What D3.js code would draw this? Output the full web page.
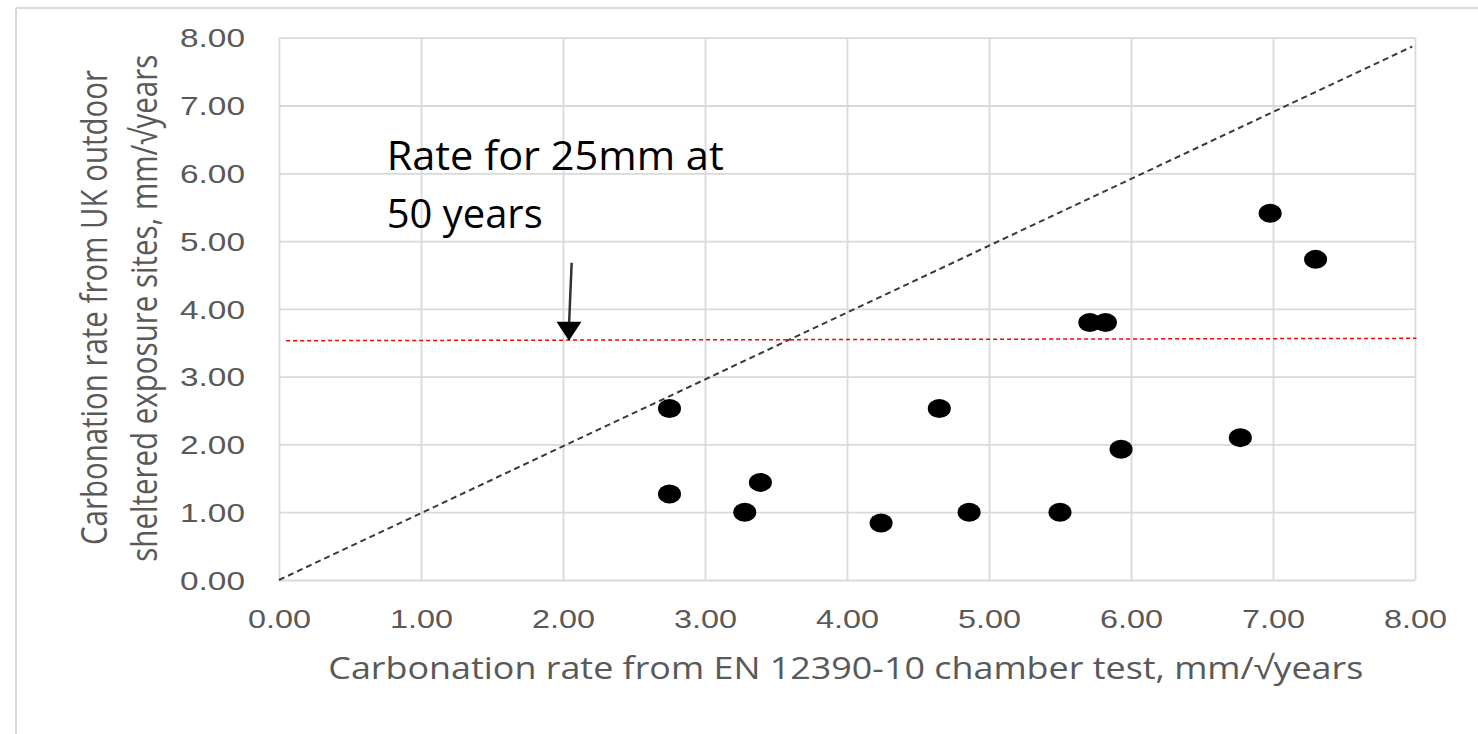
<!DOCTYPE html>
<html>
<head>
<meta charset="utf-8">
<script src="https://cdn.jsdelivr.net/npm/d3@7"></script>
<style>
  body { margin: 0; background: #fff; }
  svg { display: block; font-family: "Open Sans", sans-serif; }
</style>
</head>
<body>
<div class="chart"></div>
<script>
// measured points (chamber test rate vs outdoor rate)
const chamberRate = [2.75, 2.75, 3.39, 3.28, 4.65, 4.24, 4.86, 5.50, 5.71, 5.82, 5.93, 6.77, 6.98, 7.30];
const outdoorRate = [2.53, 1.27, 1.44, 1.00, 2.53, 0.84, 1.00, 1.00, 3.80, 3.80, 1.93, 2.10, 5.41, 4.73];

// dashed reference lines
const equalityLine = [[0, 0], [7.98, 7.87]];
const limitLine = [[0.05, 3.53], [8.01, 3.565]];
// arrow: start, tip
const arrowPts = [[2.061, 4.68], [2.042, 3.53]];

const xTicks = [0, 1, 2, 3, 4, 5, 6, 7, 8];
const yTicks = [0, 1, 2, 3, 4, 5, 6, 7, 8];

const xTitle = "Carbonation rate from EN 12390-10 chamber test, mm/√years";
const yTitle = ["Carbonation rate from UK outdoor", "sheltered exposure sites, mm/√years"];
const note = ["Rate for 25mm at", "50 years"];

const width = 1478, height = 734;
const plotL = 279, plotR = 1415, plotT = 37.7, plotB = 580;

const svg = d3.select(".chart").append("svg")
  .attr("width", width)
  .attr("height", height);

// outer frame (top and left only are visible)
svg.append("line").attr("x1", 16).attr("x2", width).attr("y1", 8).attr("y2", 8)
  .attr("stroke", "#d9d9d9").attr("stroke-width", 2);
svg.append("line").attr("x1", 16).attr("x2", 16).attr("y1", 8).attr("y2", height)
  .attr("stroke", "#d9d9d9").attr("stroke-width", 2);

const x = d3.scaleLinear().domain([0, 8]).range([plotL, plotR]);
const y = d3.scaleLinear().domain([0, 8]).range([plotB, plotT]);

// grid
svg.append("g")
  .attr("transform", `translate(0,${plotB})`)
  .call(d3.axisBottom(x).tickValues(xTicks).tickSize(-(plotB - plotT)).tickFormat(""))
  .call(g => g.select(".domain").remove())
  .call(g => g.selectAll("line").attr("stroke", "#d9d9d9").attr("stroke-width", 1.8));
svg.append("g")
  .attr("transform", `translate(${plotL},0)`)
  .call(d3.axisLeft(y).tickValues(yTicks).tickSize(-(plotR - plotL)).tickFormat(""))
  .call(g => g.select(".domain").remove())
  .call(g => g.selectAll("line").attr("stroke", "#d9d9d9").attr("stroke-width", 1.8));

// tick labels
const fmt = d3.format(".2f");
svg.append("g")
  .attr("transform", `translate(0,${plotB})`)
  .call(d3.axisBottom(x).tickValues(xTicks).tickSize(0).tickFormat(fmt))
  .call(g => g.select(".domain").remove())
  .call(g => g.selectAll("text")
    .attr("y", 48.3).attr("dy", null)
    .attr("fill", "#595959")
    .style("font-size", "25.6px")
    .attr("textLength", 63).attr("lengthAdjust", "spacingAndGlyphs"));
svg.append("g")
  .attr("transform", `translate(${plotL},0)`)
  .call(d3.axisLeft(y).tickValues(yTicks).tickSize(0).tickFormat(fmt))
  .call(g => g.select(".domain").remove())
  .call(g => g.selectAll("text")
    .attr("x", -(plotL - 245)).attr("dy", 9.2)
    .attr("fill", "#595959")
    .style("font-size", "25.6px")
    .attr("textLength", 65).attr("lengthAdjust", "spacingAndGlyphs"));

// axis titles
svg.append("text")
  .attr("x", 328.3).attr("y", 679.3)
  .attr("fill", "#595959")
  .style("font-size", "31.8px")
  .attr("textLength", 1035).attr("lengthAdjust", "spacingAndGlyphs")
  .text(xTitle);

// y title: same font as x title, glyphs widened across the baseline like the picture
const yTitlePos = [{ bx: 106.7, start: 545, len: 475 }, { bx: 156.7, start: 561.7, len: 507 }];
svg.selectAll(".ytitle").data(yTitle).join("text")
  .attr("class", "ytitle")
  .attr("transform", (d, i) => `translate(${yTitlePos[i].bx},${yTitlePos[i].start}) rotate(-90) scale(1,1.145)`)
  .attr("fill", "#595959")
  .style("font-size", "31.8px")
  .attr("textLength", (d, i) => yTitlePos[i].len).attr("lengthAdjust", "spacingAndGlyphs")
  .text(d => d);

// dashed lines
const line = d3.line().x(d => x(d[0])).y(d => y(d[1]));
svg.append("path").datum(equalityLine)
  .attr("d", line).attr("fill", "none")
  .attr("stroke", "#3a3a3a").attr("stroke-width", 2)
  .attr("stroke-dasharray", "6,4");
svg.append("path").datum(limitLine)
  .attr("d", line).attr("fill", "none")
  .attr("stroke", "#ff0000").attr("stroke-width", 1.5)
  .attr("stroke-dasharray", "4,3");

// arrow
const tipX = x(arrowPts[1][0]), tipY = y(arrowPts[1][1]);
svg.append("line")
  .attr("x1", x(arrowPts[0][0])).attr("y1", y(arrowPts[0][1]))
  .attr("x2", tipX).attr("y2", tipY - 14)
  .attr("stroke", "#333").attr("stroke-width", 2.5);
svg.append("path")
  .attr("d", `M${tipX - 12.5},${tipY - 19} L${tipX + 12.5},${tipY - 19} L${tipX},${tipY} Z`)
  .attr("fill", "#000");

// annotation
const noteLayout = [{ y: 170, len: 337 }, { y: 228.3, len: 156 }];
svg.selectAll(".note").data(note).join("text")
  .attr("class", "note")
  .attr("x", 386.7).attr("y", (d, i) => noteLayout[i].y)
  .attr("fill", "#000")
  .style("font-size", "41px")
  .attr("textLength", (d, i) => noteLayout[i].len).attr("lengthAdjust", "spacingAndGlyphs")
  .text(d => d);

// points
svg.selectAll(".pt").data(chamberRate).join("ellipse")
  .attr("class", "pt")
  .attr("cx", d => x(d))
  .attr("cy", (d, i) => y(outdoorRate[i]))
  .attr("rx", 11.5).attr("ry", 9.5)
  .attr("fill", "#000");
</script>
</body>
</html>
